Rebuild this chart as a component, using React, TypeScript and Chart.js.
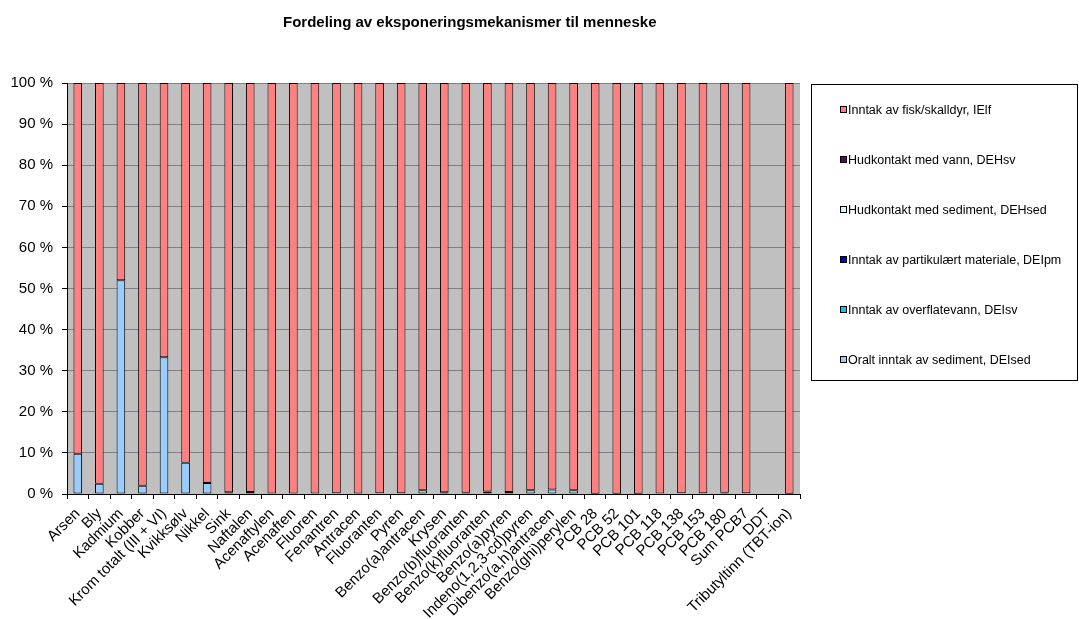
import React, { useEffect, useRef } from "react";
import { Chart, registerables } from "chart.js";

Chart.register(...registerables);

const categories = [
  "Arsen", "Bly", "Kadmium", "Kobber", "Krom totalt (III + VI)", "Kvikksølv", "Nikkel", "Sink",
  "Naftalen", "Acenaftylen", "Acenaften", "Fluoren", "Fenantren", "Antracen", "Fluoranten", "Pyren",
  "Benzo(a)antracen", "Krysen", "Benzo(b)fluoranten", "Benzo(k)fluoranten", "Benzo(a)pyren",
  "Indeno(1,2,3-cd)pyren", "Dibenzo(a,h)antracen", "Benzo(ghi)perylen", "PCB 28", "PCB 52",
  "PCB 101", "PCB 118", "PCB 138", "PCB 153", "PCB 180", "Sum PCB7", "DDT", "Tributyltinn (TBT-ion)",
];

// Oralt inntak av sediment, DEIsed (%)
const oraltSediment = [
  9.8, 2.5, 52.0, 2.0, 33.3, 7.6, 2.7, 0.4,
  0.5, 0.1, 0.1, 0.1, 0.2, 0.1, 0.2, 0.2,
  0.9, 0.4, 0.3, 0.6, 0.5,
  0.9, 1.1, 0.9, 0.05, 0.05,
  0.05, 0.1, 0.2, 0.2, 0.3, 0.2, 0, 0.05,
];
// Inntak av overflatevann, DEIsv (%)
const overflatevann = [
  0, 0, 0, 0, 0, 0, 0, 0,
  0, 0, 0, 0, 0, 0, 0, 0,
  0, 0, 0, 0, 0,
  0, 0, 0, 0, 0,
  0, 0, 0, 0, 0, 0, 0, 0,
];
// Inntak av partikulært materiale, DEIpm (%)
const partikulaert = [
  0, 0, 0, 0, 0, 0, 0, 0,
  0, 0, 0, 0, 0, 0, 0, 0,
  0, 0, 0, 0, 0,
  0, 0, 0, 0, 0,
  0, 0, 0, 0, 0, 0, 0, 0,
];
// Hudkontakt med sediment, DEHsed (%)
const hudSediment = [
  0, 0, 0, 0, 0, 0, 0, 0,
  0, 0, 0, 0, 0, 0, 0, 0,
  0, 0, 0, 0, 0,
  0, 0, 0, 0, 0,
  0, 0, 0, 0, 0, 0, 0, 0,
];
// Hudkontakt med vann, DEHsv (%)
const hudVann = [
  0, 0, 0, 0, 0, 0, 0, 0,
  0, 0, 0, 0, 0, 0, 0, 0,
  0, 0, 0, 0, 0,
  0, 0, 0, 0, 0,
  0, 0, 0, 0, 0, 0, 0, 0,
];
// Inntak av fisk/skalldyr, IElf (%)
const fiskSkalldyr = [
  90.2, 97.5, 48.0, 98.0, 66.7, 92.4, 97.3, 99.6,
  99.5, 99.9, 99.9, 99.9, 99.8, 99.9, 99.8, 99.8,
  99.1, 99.6, 99.7, 99.4, 99.5,
  99.1, 98.9, 99.1, 99.95, 99.95,
  99.95, 99.9, 99.8, 99.8, 99.7, 99.8, 0, 99.95,
];

const yTicks = ["0 %", "10 %", "20 %", "30 %", "40 %", "50 %", "60 %", "70 %", "80 %", "90 %", "100 %"];

const TITLE = "Fordeling av eksponeringsmekanismer til menneske";
const FONT = "'Liberation Sans', Arial, sans-serif";

const plotBackground = {
  id: "plotBackground",
  beforeDraw(chart: any) {
    const { ctx, chartArea } = chart;
    ctx.save();
    ctx.fillStyle = "#C0C0C0";
    ctx.fillRect(chartArea.left, chartArea.top, chartArea.right - chartArea.left, chartArea.bottom - chartArea.top);
    ctx.restore();
  },
};

const chartTitle = {
  id: "chartTitle",
  afterDraw(chart: any) {
    const { ctx, chartArea } = chart;
    ctx.save();
    ctx.font = `bold 15px ${FONT}`;
    ctx.fillStyle = "#000";
    ctx.textAlign = "center";
    ctx.textBaseline = "middle";
    const cx = (chart.width - (chart.width - chartArea.right) / 2) / 2;
    ctx.fillText(TITLE, cx, chartArea.top - 60);
    ctx.restore();
  },
};

const boxLegend = {
  id: "boxLegend",
  afterDraw(chart: any) {
    const { ctx, chartArea } = chart;
    const left = chartArea.right + 11;
    const top = chartArea.top + 1;
    const right = chart.width - 2;
    const bottom = top + 296;
    ctx.save();
    ctx.strokeStyle = "#000";
    ctx.lineWidth = 1;
    ctx.strokeRect(left + 0.5, top + 0.5, right - left, bottom - top);
    const items = chart.data.datasets.slice().reverse();
    ctx.font = `12.5px ${FONT}`;
    ctx.textBaseline = "middle";
    items.forEach((ds: any, i: number) => {
      const y = Math.round(top + 26 + i * 50);
      ctx.fillStyle = ds.backgroundColor;
      ctx.fillRect(left + 29, y - 4, 7, 7);
      ctx.strokeStyle = "#000";
      ctx.strokeRect(left + 29.5, y - 3.5, 6, 6);
      ctx.fillStyle = "#000";
      ctx.fillText(ds.label, left + 37, y + 1);
    });
    ctx.restore();
  },
};

export default function App() {
  const ref = useRef<HTMLCanvasElement>(null);

  useEffect(() => {
    document.body.style.margin = "0";
    const mk = (label: string, data: number[], color: string) => ({
      label,
      data,
      backgroundColor: color,
      borderColor: "#000",
      borderWidth: 1,
      borderSkipped: false,
      barPercentage: 0.4,
      categoryPercentage: 1,
    });
    const chart = new Chart(ref.current as HTMLCanvasElement, {
      type: "bar",
      data: {
        labels: categories,
        datasets: [
          mk("Oralt inntak av sediment, DEIsed", oraltSediment, "#99CCFF"),
          mk("Inntak av overflatevann, DEIsv", overflatevann, "#00CCFF"),
          mk("Inntak av partikulært materiale, DEIpm", partikulaert, "#0000CC"),
          mk("Hudkontakt med sediment, DEHsed", hudSediment, "#CCFFFF"),
          mk("Hudkontakt med vann, DEHsv", hudVann, "#660066"),
          mk("Inntak av fisk/skalldyr, IElf", fiskSkalldyr, "#FF8080"),
        ],
      },
      options: {
        responsive: false,
        animation: false,
        devicePixelRatio: 1,
        layout: { padding: { left: 0, right: 279, top: 83, bottom: 0 } },
        plugins: {
          legend: { display: false },
          tooltip: { enabled: false },
          title: { display: false },
        },
        scales: {
          x: {
            stacked: true,
            offset: true,
            afterFit(scale: any) {
              scale.height = 125;
            },
            grid: {
              offset: true,
              drawOnChartArea: true,
              color: (c: any) => (c.index === categories.length ? "#000" : "rgba(0,0,0,0)"),
              tickColor: "#000",
              tickLength: 5,
            },
            border: { display: true, color: "#000", width: 1 },
            ticks: {
              autoSkip: false,
              minRotation: 45,
              maxRotation: 45,
              color: "#000",
              padding: 6,
              font: { family: FONT, size: 15 },
            },
          },
          y: {
            stacked: true,
            min: 0,
            max: 100,
            afterFit(scale: any) {
              scale.width = 67;
            },
            grid: { color: "#808080", tickColor: "#000", tickLength: 5 },
            border: { display: true, color: "#000", width: 1 },
            ticks: {
              stepSize: 10,
              color: "#000",
              padding: 9,
              font: { family: FONT, size: 15 },
              callback: (_v: any, i: number) => yTicks[i],
            },
          },
        },
      },
      plugins: [plotBackground, chartTitle, boxLegend],
    });
    return () => chart.destroy();
  }, []);

  return (
    <div style={{ position: "relative", width: 1079, height: 619, background: "#fff" }}>
      <canvas ref={ref} width={1079} height={619} />
    </div>
  );
}
